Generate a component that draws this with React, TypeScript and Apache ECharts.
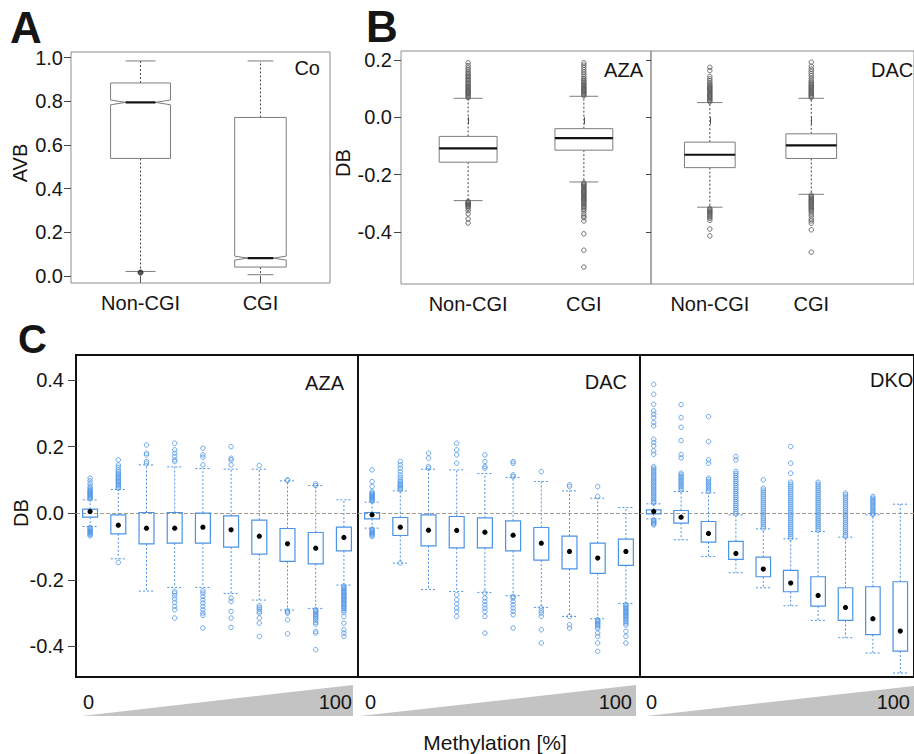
import React, { useEffect, useRef } from "react";
import * as echarts from "echarts";

const FONT = "'Liberation Sans', Arial, Helvetica, sans-serif";

// ---------- Panel A (Co) : [min, q1, median, q3, max]
const aCategories = ["Non-CGI", "CGI"];
const aStats = [
  [0.02, 0.538, 0.795, 0.884, 0.985],
  [0.005, 0.04, 0.081, 0.726, 0.985],
];
const aOutliers = [[0.015], []];
const aNotchHalf = [0.011, 0.009];
const aTicks = [0, 0.2, 0.4, 0.6, 0.8, 1.0];

// ---------- Panel B (AZA, DAC)
const bCategories = ["Non-CGI", "CGI"];
const bAzaStats = [
  [-0.291, -0.157, -0.109, -0.067, 0.066],
  [-0.226, -0.115, -0.073, -0.04, 0.073],
];
const bDacStats = [
  [-0.314, -0.176, -0.131, -0.087, 0.051],
  [-0.269, -0.144, -0.098, -0.058, 0.066],
];
const bAzaOutliers = [
  [0.068, 0.072, 0.076, 0.08, 0.084, 0.088, 0.092, 0.096, 0.1, 0.104, 0.108, 0.112, 0.118, 0.122, 0.127, 0.132, 0.137, 0.142, 0.147, 0.152, 0.158, 0.165, 0.172, 0.18, 0.19,
    -0.294, -0.297, -0.3, -0.303, -0.306, -0.309, -0.313, -0.318, -0.326, -0.337, -0.355, -0.369],
  [0.075, 0.079, 0.083, 0.087, 0.091, 0.095, 0.099, 0.103, 0.107, 0.111, 0.115, 0.12, 0.125, 0.13, 0.135, 0.142, 0.15, 0.158, 0.166, 0.174, 0.182, 0.19,
    -0.229, -0.233, -0.237, -0.241, -0.245, -0.249, -0.253, -0.257, -0.261, -0.265, -0.269, -0.273, -0.277, -0.281, -0.285, -0.289, -0.293, -0.297, -0.301, -0.306, -0.311, -0.316, -0.321, -0.327, -0.337, -0.345, -0.351, -0.362, -0.407, -0.464, -0.523],
];
const bDacOutliers = [
  [0.054, 0.058, 0.062, 0.066, 0.07, 0.074, 0.078, 0.082, 0.086, 0.09, 0.094, 0.098, 0.102, 0.106, 0.11, 0.115, 0.12, 0.127, 0.134, 0.142, 0.163, 0.174,
    -0.318, -0.322, -0.326, -0.33, -0.334, -0.338, -0.343, -0.348, -0.353, -0.36, -0.39, -0.414],
  [0.069, 0.073, 0.077, 0.081, 0.085, 0.089, 0.093, 0.097, 0.101, 0.105, 0.109, 0.113, 0.118, 0.123, 0.128, 0.136, 0.145, 0.152, 0.16, 0.168, 0.178, 0.192,
    -0.272, -0.276, -0.28, -0.284, -0.288, -0.292, -0.296, -0.3, -0.304, -0.308, -0.312, -0.316, -0.32, -0.325, -0.33, -0.337, -0.345, -0.355, -0.362, -0.37, -0.393, -0.471],
];
const bTicks = [-0.4, -0.2, 0, 0.2];

// ---------- Panel C (AZA, DAC, DKO), 10 methylation bins each
const cAzaStats = [
  [-0.04, -0.012, 0.005, 0.012, 0.04],
  [-0.137, -0.062, -0.036, -0.005, 0.071],
  [-0.234, -0.092, -0.045, 0.002, 0.145],
  [-0.223, -0.09, -0.045, 0.002, 0.139],
  [-0.223, -0.09, -0.042, 0.0, 0.134],
  [-0.241, -0.102, -0.05, -0.008, 0.132],
  [-0.261, -0.123, -0.069, -0.021, 0.132],
  [-0.291, -0.145, -0.092, -0.046, 0.097],
  [-0.286, -0.152, -0.105, -0.058, 0.083],
  [-0.216, -0.113, -0.073, -0.042, 0.04],
];
const cDacStats = [
  [-0.045, -0.017, -0.005, 0.002, 0.033],
  [-0.15, -0.067, -0.042, -0.013, 0.067],
  [-0.229, -0.098, -0.051, -0.005, 0.132],
  [-0.235, -0.104, -0.052, -0.01, 0.13],
  [-0.238, -0.104, -0.057, -0.014, 0.119],
  [-0.248, -0.113, -0.066, -0.023, 0.107],
  [-0.283, -0.141, -0.09, -0.043, 0.095],
  [-0.31, -0.167, -0.115, -0.069, 0.067],
  [-0.317, -0.181, -0.135, -0.09, 0.045],
  [-0.271, -0.157, -0.115, -0.078, 0.017],
];
const cDkoStats = [
  [-0.017, -0.002, 0.005, 0.01, 0.028],
  [-0.08, -0.03, -0.012, 0.008, 0.065],
  [-0.13, -0.087, -0.061, -0.025, 0.061],
  [-0.179, -0.139, -0.121, -0.085, -0.005],
  [-0.224, -0.191, -0.168, -0.132, -0.047],
  [-0.278, -0.236, -0.21, -0.172, -0.077],
  [-0.322, -0.279, -0.247, -0.191, -0.055],
  [-0.374, -0.322, -0.283, -0.224, -0.072],
  [-0.42, -0.365, -0.317, -0.221, -0.005],
  [-0.48, -0.414, -0.354, -0.206, 0.027],
];
const cAzaOutliers = [
  [0.043, 0.046, 0.049, 0.052, 0.055, 0.058, 0.061, 0.064, 0.067, 0.07, 0.075, 0.08, 0.088, 0.097, 0.105, -0.043, -0.046, -0.049, -0.052, -0.055, -0.058, -0.061, -0.064, -0.068],
  [0.075, 0.079, 0.083, 0.087, 0.091, 0.095, 0.099, 0.103, 0.107, 0.111, 0.115, 0.12, 0.125, 0.13, 0.138, 0.145, 0.16, -0.148],
  [0.15, 0.155, 0.175, 0.18, 0.205],
  [0.155, 0.16, 0.17, 0.18, 0.19, 0.21, -0.235, -0.24, -0.248, -0.258, -0.268, -0.28, -0.29, -0.315],
  [0.145, 0.168, 0.175, 0.195, -0.233, -0.24, -0.25, -0.26, -0.27, -0.28, -0.29, -0.3, -0.307, -0.345],
  [0.145, 0.16, 0.165, 0.2, -0.255, -0.265, -0.295, -0.315, -0.343],
  [0.143, -0.278, -0.283, -0.288, -0.295, -0.3, -0.315, -0.33, -0.37],
  [0.098, 0.1, -0.293, -0.297, -0.3, -0.32, -0.362],
  [0.083, 0.088, -0.29, -0.293, -0.296, -0.3, -0.304, -0.308, -0.312, -0.317, -0.322, -0.328, -0.333, -0.355, -0.36, -0.41],
  [-0.219, -0.223, -0.227, -0.231, -0.235, -0.239, -0.243, -0.247, -0.251, -0.255, -0.259, -0.263, -0.267, -0.271, -0.275, -0.279, -0.283, -0.287, -0.292, -0.298, -0.31, -0.33, -0.35, -0.36, -0.37],
];
const cDacOutliers = [
  [0.036, 0.039, 0.042, 0.045, 0.048, 0.051, 0.054, 0.057, 0.06, 0.064, 0.08, 0.095, 0.13, -0.048, -0.051, -0.054, -0.057, -0.06, -0.063, -0.066, -0.07],
  [0.07, 0.074, 0.078, 0.082, 0.086, 0.09, 0.095, 0.1, 0.107, 0.115, 0.125, 0.135, 0.145, 0.155, -0.15],
  [0.135, 0.14, 0.165, 0.18],
  [0.15, 0.175, 0.19, 0.21, -0.245, -0.26, -0.272, -0.285, -0.295, -0.31],
  [0.135, 0.14, 0.155, 0.175, -0.24, -0.255, -0.265, -0.275, -0.285, -0.295, -0.31, -0.36],
  [0.11, 0.115, 0.15, 0.155, -0.25, -0.255, -0.265, -0.275, -0.285, -0.295, -0.305, -0.345],
  [0.125, -0.285, -0.293, -0.3, -0.31, -0.35, -0.39],
  [0.08, 0.085, -0.31, -0.335, -0.345],
  [0.05, 0.08, -0.32, -0.323, -0.326, -0.33, -0.333, -0.337, -0.342, -0.347, -0.36, -0.37, -0.39, -0.415],
  [-0.275, -0.279, -0.283, -0.287, -0.291, -0.295, -0.299, -0.303, -0.307, -0.311, -0.315, -0.32, -0.325, -0.33, -0.336, -0.355, -0.37, -0.39],
];
const cDkoOutliers = [
  [0.387, 0.357, 0.327, 0.307, 0.297, 0.287, 0.272, 0.262, 0.222, 0.212, 0.202, 0.187, 0.177, 0.14, 0.135, 0.13, 0.125, 0.12, 0.115, 0.11, 0.105, 0.1, 0.095, 0.09, 0.085, 0.08, 0.075, 0.07, 0.065, 0.06, 0.055, 0.05, 0.045, 0.04, 0.035, 0.031, -0.02, -0.023, -0.026, -0.029, -0.032, -0.035],
  [0.326, 0.287, 0.258, 0.218, 0.176, 0.166, 0.12, 0.115, 0.11, 0.105, 0.1, 0.095, 0.09, 0.085, 0.08, 0.075, 0.07],
  [0.29, 0.215, 0.16, 0.15, 0.105, 0.1, 0.095, 0.09, 0.085, 0.08, 0.075, 0.07, 0.065],
  [0.17, 0.16, 0.125, 0.119, 0.113, 0.107, 0.101, 0.095, 0.089, 0.083, 0.077, 0.071, 0.065, 0.059, 0.053, 0.047, 0.041, 0.035, 0.029, 0.023, 0.017, 0.011, 0.005, -0.001],
  [0.1, 0.075, 0.069, 0.063, 0.057, 0.051, 0.045, 0.039, 0.033, 0.027, 0.021, 0.015, 0.009, 0.003, -0.003, -0.009, -0.015, -0.021, -0.027, -0.033, -0.039, -0.045],
  [0.2, 0.15, 0.12, 0.093, 0.087, 0.081, 0.075, 0.069, 0.063, 0.057, 0.051, 0.045, 0.039, 0.033, 0.027, 0.021, 0.015, 0.009, 0.003, -0.003, -0.009, -0.015, -0.021, -0.027, -0.033, -0.039, -0.045, -0.051, -0.057, -0.063, -0.069, -0.075],
  [0.093, 0.087, 0.081, 0.075, 0.069, 0.063, 0.057, 0.051, 0.045, 0.039, 0.033, 0.027, 0.021, 0.015, 0.009, 0.003, -0.003, -0.009, -0.015, -0.021, -0.027, -0.033, -0.039, -0.045, -0.051],
  [0.06, 0.055, 0.049, 0.043, 0.037, 0.031, 0.025, 0.019, 0.013, 0.007, 0.001, -0.005, -0.011, -0.017, -0.023, -0.029, -0.035, -0.041, -0.047, -0.053, -0.059, -0.065, -0.07],
  [0.05, 0.045, 0.04, 0.035, 0.03, 0.025, 0.02, 0.015, 0.01, 0.005, 0, -0.004],
  [],
];
const cTicks = [-0.4, -0.2, 0, 0.2, 0.4];
const cGradientLabels = ["0", "100"];
const cPanelNames = ["AZA", "DAC", "DKO"];

// ---------- styles
const BLUE = "#4b93e6";
const GRAY_BOX = "#7d7d7d";
const TXT = "#151515";

const toBoxData = (stats: number[][]) => stats.map((s, i) => [i + 1, ...s]);
const toOutData = (outs: number[][]) => {
  const res: number[][] = [];
  outs.forEach((arr, i) => arr.forEach((v) => res.push([i + 1, v])));
  return res;
};

function grayRender(widths: number[], notches: number[] | null) {
  return (params: any, api: any) => {
    const x = api.value(0);
    const mn = api.value(1), q1 = api.value(2), md = api.value(3), q3 = api.value(4), mx = api.value(5);
    const cx = api.coord([x, md])[0];
    const y = (v: number) => api.coord([x, v])[1];
    const hw = api.size([widths[params.dataIndex], 0])[0] / 2;
    const children: any[] = [];
    const dot = { stroke: "#444", lineWidth: 1, lineDash: [2, 2] };
    const cap = { stroke: GRAY_BOX, lineWidth: 1 };
    children.push({ type: "line", shape: { x1: cx, y1: y(q3), x2: cx, y2: y(mx) }, style: dot });
    children.push({ type: "line", shape: { x1: cx, y1: y(q1), x2: cx, y2: y(mn) }, style: dot });
    children.push({ type: "line", shape: { x1: cx - hw / 2, y1: y(mx), x2: cx + hw / 2, y2: y(mx) }, style: cap });
    children.push({ type: "line", shape: { x1: cx - hw / 2, y1: y(mn), x2: cx + hw / 2, y2: y(mn) }, style: cap });
    let mw = hw;
    if (notches) {
      const n = notches[params.dataIndex];
      mw = hw / 2;
      const pts = [
        [cx - hw, y(q3)], [cx - hw, y(md + n)], [cx - mw, y(md)], [cx - hw, y(md - n)], [cx - hw, y(q1)],
        [cx + hw, y(q1)], [cx + hw, y(md - n)], [cx + mw, y(md)], [cx + hw, y(md + n)], [cx + hw, y(q3)],
      ];
      children.push({ type: "polygon", shape: { points: pts }, style: { fill: "#fff", stroke: GRAY_BOX, lineWidth: 1 } });
    } else {
      children.push({ type: "rect", shape: { x: cx - hw, y: y(q3), width: 2 * hw, height: y(q1) - y(q3) }, style: { fill: "#fff", stroke: GRAY_BOX, lineWidth: 1 } });
    }
    children.push({ type: "line", shape: { x1: cx - mw, y1: y(md), x2: cx + mw, y2: y(md) }, style: { stroke: "#111", lineWidth: 2.2 } });
    return { type: "group", children };
  };
}

const C_BOX_W = 0.53;
function blueRender(params: any, api: any) {
  const x = api.value(0);
  const mn = api.value(1), q1 = api.value(2), md = api.value(3), q3 = api.value(4), mx = api.value(5);
  const cx = api.coord([x, md])[0];
  const y = (v: number) => api.coord([x, v])[1];
  const hw = api.size([C_BOX_W, 0])[0] / 2;
  const dash = { stroke: BLUE, lineWidth: 1, lineDash: [2, 2] };
  return {
    type: "group",
    children: [
      { type: "line", shape: { x1: cx, y1: y(q3), x2: cx, y2: y(mx) }, style: dash },
      { type: "line", shape: { x1: cx, y1: y(q1), x2: cx, y2: y(mn) }, style: dash },
      { type: "line", shape: { x1: cx - hw, y1: y(mx), x2: cx + hw, y2: y(mx) }, style: dash },
      { type: "line", shape: { x1: cx - hw, y1: y(mn), x2: cx + hw, y2: y(mn) }, style: dash },
      { type: "rect", shape: { x: cx - hw, y: y(q3), width: 2 * hw, height: y(q1) - y(q3) }, style: { fill: "none", stroke: BLUE, lineWidth: 1.2 } },
      { type: "circle", shape: { cx, cy: y(md), r: 2.6 }, style: { fill: "#000" } },
    ],
  };
}

export default function App() {
  const ref = useRef<HTMLDivElement>(null);
  useEffect(() => {
    if (!ref.current) return;
    const chart = echarts.init(ref.current, null, { renderer: "svg" });

    const yLab = (v: number) => v.toFixed(1);
    const grayGrid = { show: true, borderColor: "#8c8c8c", borderWidth: 1, backgroundColor: "transparent" };
    const blackGrid = { show: true, borderColor: "#111", borderWidth: 2, backgroundColor: "transparent" };
    const grids = [
      { left: 71, top: 52, width: 259, height: 231, ...grayGrid },
      { left: 401, top: 51, width: 250, height: 233, ...grayGrid },
      { left: 651, top: 51, width: 300, height: 233, ...grayGrid },
      { left: 76, top: 355, width: 282, height: 322, ...blackGrid },
      { left: 358, top: 355, width: 282, height: 322, ...blackGrid },
      { left: 640, top: 355, width: 282, height: 322, ...blackGrid },
    ];

    const catX = (gi: number, min: number, max: number, cats: string[]) => ({
      type: "value", gridIndex: gi, min, max,
      axisLine: { show: false }, splitLine: { show: false },
      axisTick: { show: true, length: 7, customValues: [1, 2], lineStyle: { color: "#555" } },
      axisLabel: { show: true, customValues: [1, 2], formatter: (v: number) => cats[Math.round(v) - 1], fontSize: 20, color: TXT, margin: 10, fontFamily: FONT },
    });
    const hiddenX = (gi: number) => ({
      type: "value", gridIndex: gi, min: 0.5, max: 10.5, show: false,
      axisLine: { show: false }, splitLine: { show: false }, axisTick: { show: false }, axisLabel: { show: false },
    });
    const valY = (gi: number, min: number, max: number, ticks: number[], showLabel: boolean, tickLen: number, margin: number) => ({
      type: "value", gridIndex: gi, min, max,
      axisLine: { show: false }, splitLine: { show: false },
      axisTick: { show: tickLen > 0, length: tickLen, customValues: ticks, lineStyle: { color: "#444" } },
      axisLabel: { show: showLabel, customValues: ticks, formatter: yLab, fontSize: 20, color: TXT, margin, fontFamily: FONT },
    });

    const xAxis = [
      catX(0, 0.42, 2.58, aCategories),
      catX(1, 0.42, 2.58, bCategories),
      catX(2, 0.42, 0.42 + 300 / 115.7, bCategories),
      hiddenX(3), hiddenX(4), hiddenX(5),
    ];
    const yAxis = [
      valY(0, -0.033, 1.026, aTicks, true, 7, 8),
      valY(1, -0.582, 0.231, bTicks, true, 7, 9),
      valY(2, -0.582, 0.231, bTicks, false, 5, 9),
      valY(3, -0.492, 0.475, cTicks, true, 8, 12),
      valY(4, -0.492, 0.475, cTicks, false, 0, 12),
      valY(5, -0.492, 0.475, cTicks, false, 0, 12),
    ];

    const boxSeries = (gi: number, stats: number[][], render: any) => ({
      type: "custom", xAxisIndex: gi, yAxisIndex: gi, data: toBoxData(stats),
      encode: { x: 0, y: [1, 2, 3, 4, 5] }, renderItem: render, silent: true, z: 2,
    });
    const outSeries = (gi: number, outs: number[][], color: string, size: number, zeroLine: boolean) => ({
      type: "scatter", xAxisIndex: gi, yAxisIndex: gi, data: toOutData(outs),
      symbol: "circle", symbolSize: size, silent: true, z: 3,
      itemStyle: { color: "transparent", borderColor: color, borderWidth: 1 },
      markLine: zeroLine ? {
        silent: true, symbol: ["none", "none"], label: { show: false }, z: 1,
        lineStyle: { type: "dashed", color: "#a79d93", width: 1 }, data: [{ yAxis: 0 }],
      } : undefined,
    });

    const series: any[] = [
      boxSeries(0, aStats, grayRender([0.5, 0.43], aNotchHalf)),
      {
        type: "scatter", xAxisIndex: 0, yAxisIndex: 0, data: toOutData(aOutliers), symbol: "circle", symbolSize: 5,
        itemStyle: { color: "#333", borderColor: "#111", borderWidth: 1 }, silent: true, z: 3,
      },
      boxSeries(1, bAzaStats, grayRender([0.5, 0.5], null)),
      outSeries(1, bAzaOutliers, "#505050", 4.5, false),
      boxSeries(2, bDacStats, grayRender([0.5, 0.5], null)),
      outSeries(2, bDacOutliers, "#505050", 4.5, false),
      boxSeries(3, cAzaStats, blueRender),
      outSeries(3, cAzaOutliers, BLUE, 4.5, true),
      boxSeries(4, cDacStats, blueRender),
      outSeries(4, cDacOutliers, BLUE, 4.5, true),
      boxSeries(5, cDkoStats, blueRender),
      outSeries(5, cDkoOutliers, BLUE, 4.5, true),
    ];

    const txt = (text: string, x: number, y: number, align: string, size = 20, extra: any = {}) => ({
      type: "text", x, y, z: 10, silent: true, ...extra,
      style: { text, fill: TXT, font: `${extra.weight || "normal"} ${size}px ${FONT}`, textAlign: align, textVerticalAlign: "middle" },
    });
    const tri = (x0: number, x1: number) => ({
      type: "polygon", silent: true, z: 1,
      shape: { points: [[x0, 716], [x1, 685], [x1, 716]] },
      style: { fill: "#c3c3c3" },
    });
    const cLeft = [83, 365, 646];
    const cRight = [352, 632, 910];
    const graphic: any[] = [
      txt("A", 10, 27, "left", 44, { weight: "bold" }),
      txt("B", 366, 26, "left", 44, { weight: "bold" }),
      txt("C", 18, 339, "left", 40, { weight: "bold" }),
      txt("Co", 320, 68, "right"),
      txt("AZA", 643, 70, "right"),
      txt("DAC", 871, 70, "left"),
      txt(cPanelNames[0], 344, 383, "right"),
      txt(cPanelNames[1], 627, 382, "right"),
      txt(cPanelNames[2], 870, 380, "left"),
      txt("AVB", 20, 163, "center", 20, { rotation: Math.PI / 2 }),
      txt("DB", 343, 163, "center", 20, { rotation: Math.PI / 2 }),
      txt("DB", 21, 513, "center", 20, { rotation: Math.PI / 2 }),
      tri(82, 353), tri(360, 636), tri(646, 922),
      ...cLeft.map((x) => txt(cGradientLabels[0], x, 702, "left")),
      ...cRight.map((x) => txt(cGradientLabels[1], x, 702, "right")),
      txt("Methylation [%]", 495, 742, "center", 21),
    ];

    chart.setOption({
      animation: false,
      textStyle: { fontFamily: FONT },
      grid: grids,
      xAxis,
      yAxis,
      series,
      graphic,
    });
    return () => chart.dispose();
  }, []);

  return (
    <div
      ref={ref}
      style={{ position: "absolute", left: 0, top: 0, width: 914, height: 754, background: "#fff" }}
    />
  );
}
